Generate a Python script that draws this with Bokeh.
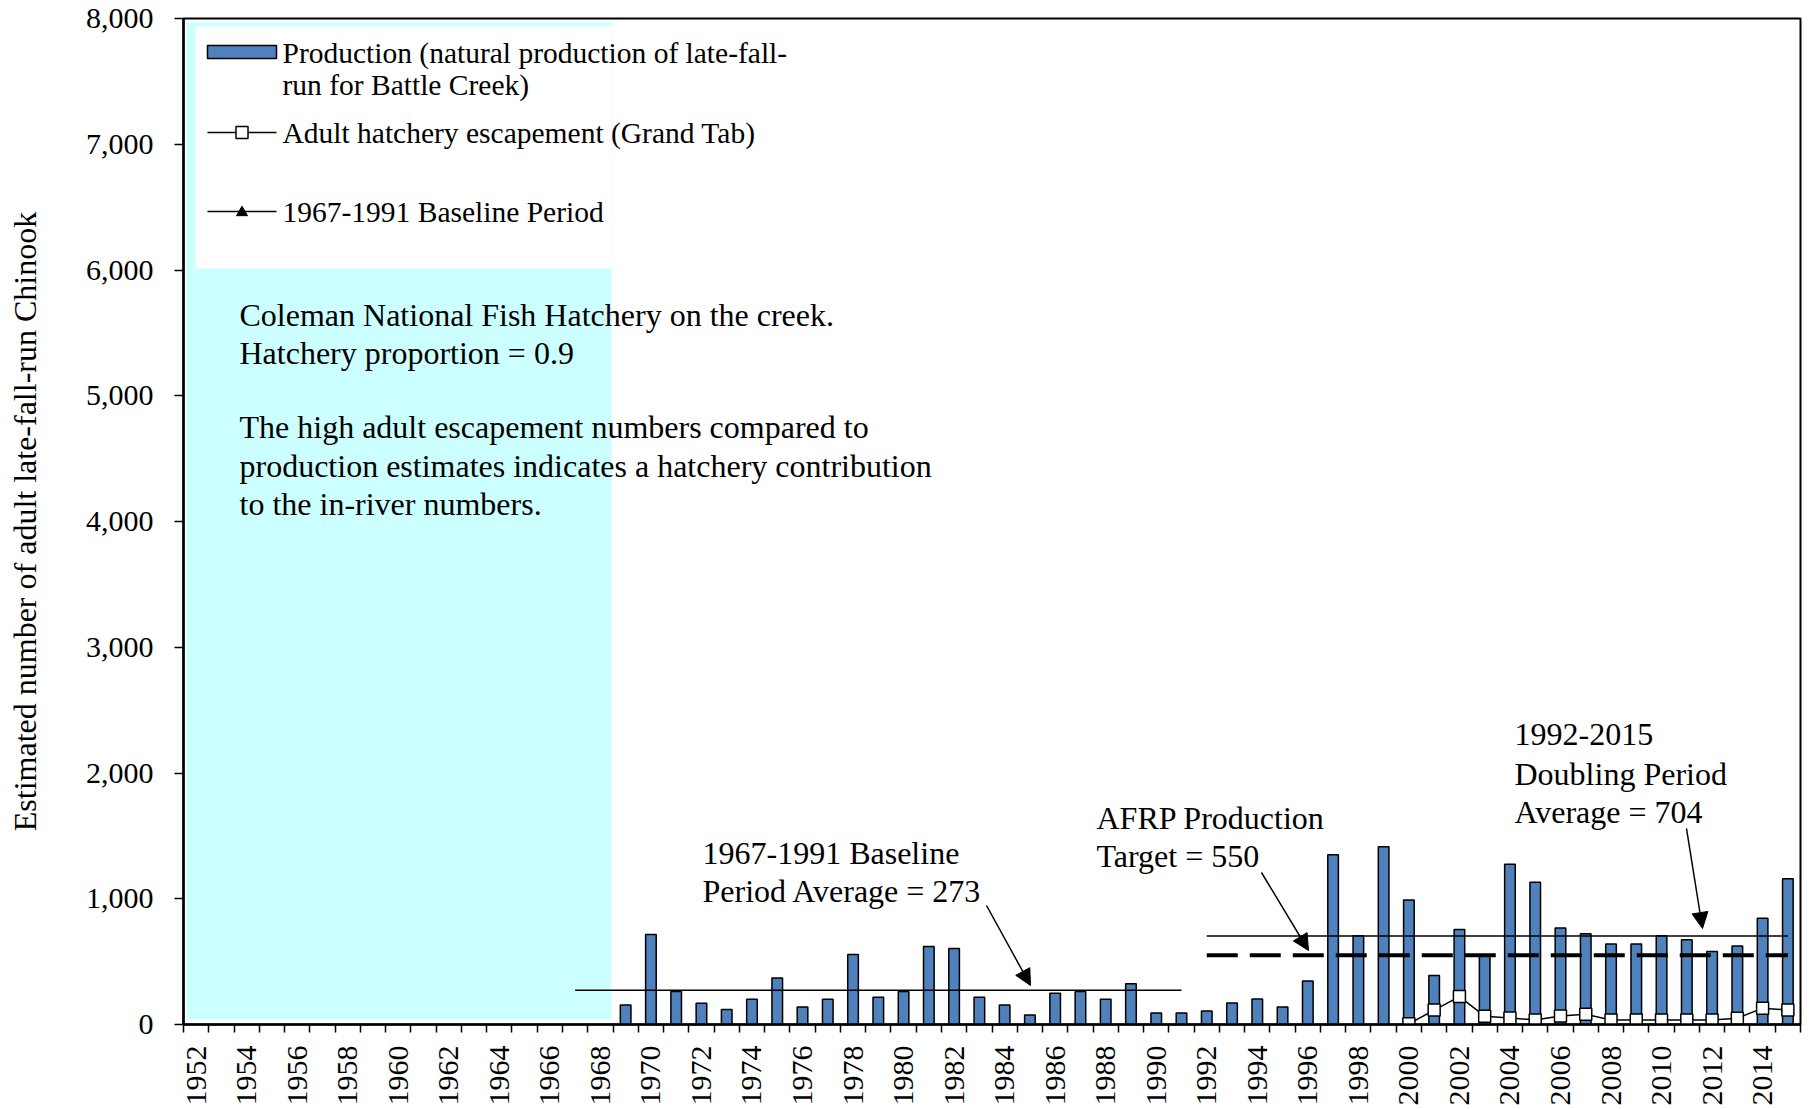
import math
from bokeh.plotting import figure
from bokeh.models import Range1d, FixedTicker, NumeralTickFormatter, Arrow, NormalHead
from bokeh.core.properties import value
from bokeh.embed import file_html
from bokeh.resources import INLINE

# ---------------- data ----------------
prod_years = list(range(1969, 2016))
production = [155, 715, 262, 168, 120, 200, 370, 140, 200, 557, 217, 262, 620, 605,
              217, 155, 76, 248, 262, 200, 325, 92, 92,
              108, 170, 202, 140, 345, 1350, 705, 1414, 990, 390, 755, 545, 1275,
              1132, 768, 722, 640, 640, 705, 673, 580, 625, 845, 1160]
hatch_years = list(range(2000, 2016))
hatchery_escapement = [5, 115, 222, 66, 52, 36, 68, 82, 35, 35, 35, 35, 35, 50, 130, 115]

x_tick_years = list(range(1952, 2015, 2))
y_ticks = list(range(0, 8001, 1000))

baseline_span = [1967, 1991]
baseline_avg = 273
doubling_span = [1992, 2015]
doubling_avg = 704
afrp_target = 550

legend_labels = ["Production (natural production of late-fall-",
                 "run for Battle Creek)",
                 "Adult hatchery escapement (Grand Tab)",
                 "1967-1991 Baseline Period"]
note_lines = ["Coleman National Fish Hatchery on the creek.",
              "Hatchery proportion = 0.9",
              "The high adult escapement numbers compared to",
              "production estimates indicates a hatchery contribution",
              "to the in-river numbers."]
baseline_label = ["1967-1991 Baseline", "Period Average = 273"]
afrp_label = ["AFRP Production", "Target = 550"]
doubling_label = ["1992-2015", "Doubling Period", "Average = 704"]

FONT = "Liberation Serif"
BAR_BLUE = "#4F81BD"
CYAN = "#CCFFFF"

# frame geometry on the page (pixels)
W, H = 1810, 1109
FL, FT, FW, FH = 183, 18, 1617, 1006


def px_x(px):
    return 1951.5 + (px - FL) / (FW / 64.0)


def px_y(py):
    return (FT + FH - py) / (FH / 8000.0)


p = figure(width=W, height=H, output_backend="svg", toolbar_location=None,
           x_range=Range1d(1951.5, 2015.5), y_range=Range1d(0, 8000),
           min_border_left=FL, min_border_right=W - FL - FW, min_border_top=FT,
           min_border_bottom=H - FT - FH)
p.background_fill_color = "white"
p.border_fill_color = "white"
p.grid.visible = False
p.outline_line_color = "black"
p.outline_line_width = 2
p.outline_line_alpha = 1

# x axis
xa = p.xaxis[0]
xa.ticker = FixedTicker(ticks=x_tick_years, minor_ticks=[y - 0.5 for y in range(1952, 2017)])
xa.major_tick_out = 0
xa.major_tick_in = 0
xa.minor_tick_out = 8
xa.minor_tick_in = 0
xa.minor_tick_line_color = "black"
xa.minor_tick_line_width = 1.5
xa.axis_line_color = "black"
xa.axis_line_width = 2.5
xa.major_label_orientation = math.pi / 2
xa.major_label_text_font = FONT
xa.major_label_text_font_size = "30px"
xa.major_label_text_color = "black"
xa.major_label_standoff = 13

# y axis
ya = p.yaxis[0]
ya.ticker = FixedTicker(ticks=y_ticks)
ya.formatter = NumeralTickFormatter(format="0,0")
ya.major_tick_out = 9
ya.major_tick_in = 0
ya.major_tick_line_color = "black"
ya.major_tick_line_width = 1.5
ya.minor_tick_out = 0
ya.minor_tick_in = 0
ya.axis_line_color = "black"
ya.axis_line_width = 2.5
ya.major_label_text_font = FONT
ya.major_label_text_font_size = "30px"
ya.major_label_text_color = "black"
ya.major_label_standoff = 21
ya.axis_label = "Estimated number of adult late-fall-run Chinook"
ya.axis_label_text_font = FONT
ya.axis_label_text_font_size = "32px"
ya.axis_label_text_font_style = "normal"
ya.axis_label_text_color = "black"
ya.axis_label_standoff = 40

# background panels
p.quad(left=px_x(186), right=px_x(611), bottom=px_y(1019), top=px_y(22),
       fill_color=CYAN, line_color=None)
p.quad(left=px_x(195), right=px_x(611), bottom=px_y(268), top=px_y(26),
       fill_color="white", line_color=None)

# bars
p.vbar(x=prod_years, top=production, width=0.42, fill_color=BAR_BLUE,
       line_color="black", line_width=1.5)

# reference lines
p.line(baseline_span, [baseline_avg] * 2, line_color="black", line_width=1.5)
p.line(doubling_span, [doubling_avg] * 2, line_color="black", line_width=1.5)
p.line(doubling_span, [afrp_target] * 2, line_color="black", line_width=4,
       line_dash="31 12")

# hatchery escapement
p.line(hatch_years, hatchery_escapement, line_color="black", line_width=1.5)
p.scatter(hatch_years, hatchery_escapement, marker="square", size=12,
          fill_color="white", line_color="black", line_width=1.5)

# legend (manual)
p.quad(left=px_x(207), right=px_x(276), bottom=px_y(58), top=px_y(45),
       fill_color=BAR_BLUE, line_color="black", line_width=1.5)
p.line([px_x(207), px_x(276)], [px_y(132)] * 2, line_color="black", line_width=1.5)
p.scatter([px_x(241.5)], [px_y(132)], marker="square", size=12,
          fill_color="white", line_color="black", line_width=1.5)
p.line([px_x(207), px_x(276)], [px_y(211)] * 2, line_color="black", line_width=1.5)
p.scatter([px_x(241.5)], [px_y(212)], marker="triangle", size=11,
          fill_color="black", line_color="black", line_width=1)
p.text(x=[px_x(282)] * 4, y=[px_y(52), px_y(84), px_y(132), px_y(211)],
       text=legend_labels, text_font=value(FONT), text_font_size="29.5px",
       text_baseline="middle", text_align="left", text_color="black")

# annotations
p.text(x=[px_x(239)] * 5, y=[px_y(v) for v in (314, 352, 426, 465, 503)],
       text=note_lines, text_font=value(FONT), text_font_size="32px",
       text_baseline="middle", text_align="left", text_color="black")
p.text(x=[px_x(702)] * 2, y=[px_y(852), px_y(890)], text=baseline_label,
       text_font=value(FONT), text_font_size="32px",
       text_baseline="middle", text_align="left", text_color="black")
p.text(x=[px_x(1096)] * 2, y=[px_y(817), px_y(855)], text=afrp_label,
       text_font=value(FONT), text_font_size="32px",
       text_baseline="middle", text_align="left", text_color="black")
p.text(x=[px_x(1514)] * 3, y=[px_y(734), px_y(773), px_y(811)], text=doubling_label,
       text_font=value(FONT), text_font_size="32px",
       text_baseline="middle", text_align="left", text_color="black")

# arrows
for (xs, ys, xe, ye) in [(986, 905, 1030, 985), (1261, 872, 1308, 950), (1686, 828, 1702, 928)]:
    p.add_layout(Arrow(end=NormalHead(size=16, fill_color="black", line_color="black", line_width=1),
                       x_start=px_x(xs), y_start=px_y(ys), x_end=px_x(xe), y_end=px_y(ye),
                       line_color="black", line_width=1.5))

open("out.html", "w").write(file_html(p, INLINE))
